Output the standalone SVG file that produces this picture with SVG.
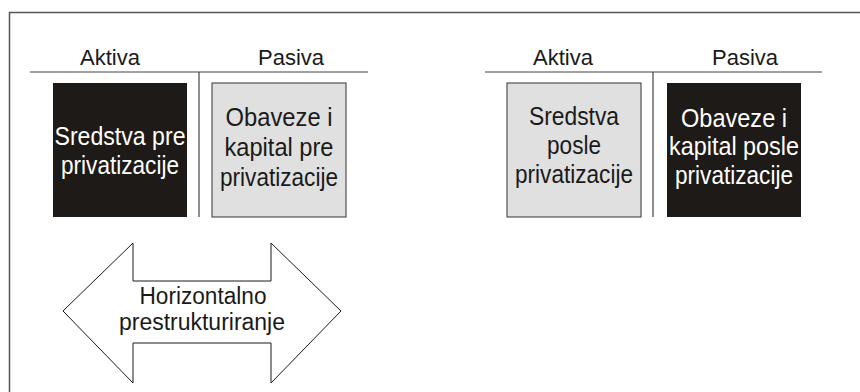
<svg xmlns="http://www.w3.org/2000/svg" width="860" height="392" viewBox="0 0 860 392">
<style>
text{font-family:"Liberation Sans",Arial,sans-serif;text-anchor:middle}
.hd{font-size:22px;fill:#1a1a1a}
.bx{font-size:25px}
.dark{fill:#1e1a17}
.light{fill:#e0e0e0;stroke:#333;stroke-width:1}
.wt{fill:#ffffff}
.bk{fill:#1a1a1a}
.rule{stroke:#444;stroke-width:1.2;fill:none}
</style>
<rect width="860" height="392" fill="#fff"/>
<path d="M9.5 392V12.5H860" fill="none" stroke="#555" stroke-width="1.5"/>
<g id="connectors">
<line class="rule" x1="30" y1="72" x2="368" y2="72"/>
<line class="rule" x1="199" y1="72" x2="199" y2="217"/>
<line class="rule" x1="485" y1="72" x2="822" y2="72"/>
<line class="rule" x1="653" y1="72" x2="653" y2="217"/>
</g>
<g id="labels">
<text class="hd" x="110" y="65">Aktiva</text>
<text class="hd" x="291" y="65">Pasiva</text>
<text class="hd" x="563" y="65">Aktiva</text>
<text class="hd" x="745" y="65">Pasiva</text>
</g>
<g id="sredstva-pre">
<rect class="dark" x="53" y="83" width="134" height="134"/>
<text class="bx wt" x="120" y="145" textLength="131" lengthAdjust="spacingAndGlyphs">Sredstva pre</text>
<text class="bx wt" x="120" y="174" textLength="118" lengthAdjust="spacingAndGlyphs">privatizacije</text>
</g>
<g id="obaveze-pre">
<rect class="light" x="212" y="83" width="134" height="134"/>
<text class="bx bk" x="279" y="126" textLength="107" lengthAdjust="spacingAndGlyphs">Obaveze i</text>
<text class="bx bk" x="279" y="156" textLength="109" lengthAdjust="spacingAndGlyphs">kapital pre</text>
<text class="bx bk" x="279" y="186" textLength="118" lengthAdjust="spacingAndGlyphs">privatizacije</text>
</g>
<g id="sredstva-posle">
<rect class="light" x="507" y="83" width="134" height="134"/>
<text class="bx bk" x="574" y="125" textLength="90" lengthAdjust="spacingAndGlyphs">Sredstva</text>
<text class="bx bk" x="574" y="154" textLength="54" lengthAdjust="spacingAndGlyphs">posle</text>
<text class="bx bk" x="574" y="183" textLength="118" lengthAdjust="spacingAndGlyphs">privatizacije</text>
</g>
<g id="obaveze-posle">
<rect class="dark" x="667" y="83" width="134" height="134"/>
<text class="bx wt" x="734" y="127" textLength="106" lengthAdjust="spacingAndGlyphs">Obaveze i</text>
<text class="bx wt" x="734" y="155" textLength="130" lengthAdjust="spacingAndGlyphs">kapital posle</text>
<text class="bx wt" x="734" y="184" textLength="118" lengthAdjust="spacingAndGlyphs">privatizacije</text>
</g>
<g id="horizontalno">
<polygon points="63,311 133,243 133,281 271,281 271,243 341,311 271,383 271,343 133,343 133,383" fill="#fff" stroke="#1a1a1a" stroke-width="1"/>
<text class="bk" x="203" y="304" font-size="23.5" textLength="127" lengthAdjust="spacingAndGlyphs">Horizontalno</text>
<text class="bk" x="202" y="330" font-size="23.5" textLength="166" lengthAdjust="spacingAndGlyphs">prestrukturiranje</text>
</g>
</svg>
